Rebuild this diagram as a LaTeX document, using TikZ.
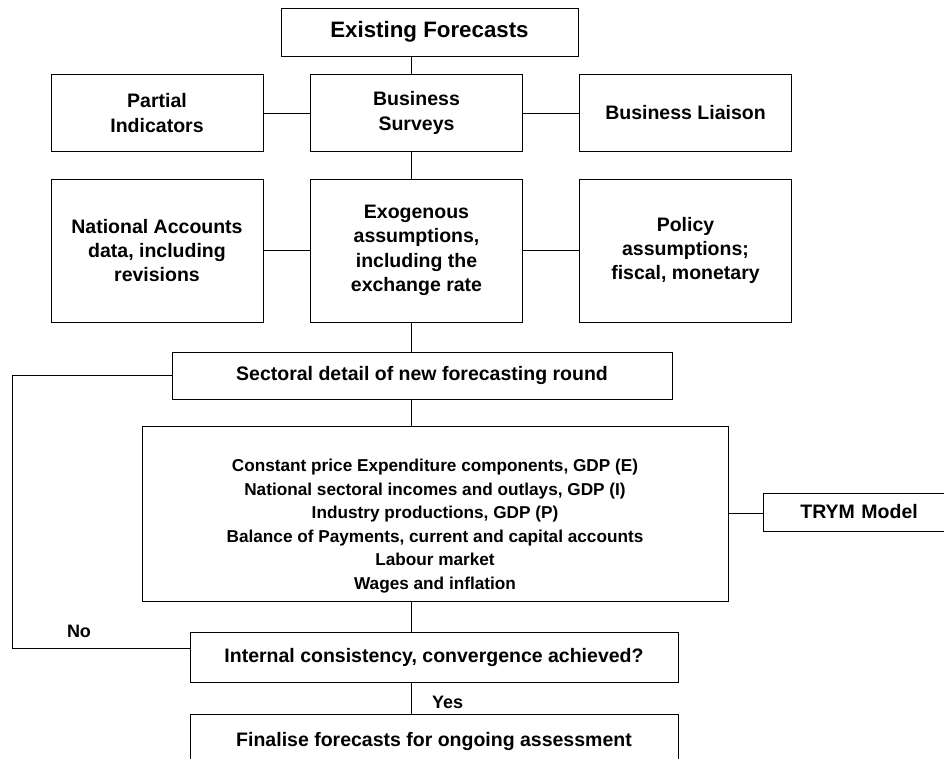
\documentclass[tikz,border=0pt]{standalone}
\usepackage{fontspec}
\setmainfont{Liberation Sans}
\usetikzlibrary{positioning, calc}

\begin{document}
\begin{tikzpicture}[x=1pt, y=-1pt,
  box/.style = {draw, line width=0.8pt, align=center, inner sep=2pt, font=\fontsize{19.5}{24.3}\selectfont\bfseries},
  rowbox/.style = {box, minimum width=212pt, minimum height=77pt},
  tallbox/.style = {box, minimum width=212pt, minimum height=143pt},
  widebox/.style = {box, minimum width=488pt, minimum height=50pt},
  link/.style = {draw, line width=0.8pt},
  lbl/.style = {inner sep=0pt, font=\fontsize{18}{22}\selectfont\bfseries}]
\useasboundingbox (0,0) rectangle (944,758);

\node[box, minimum width=297pt, minimum height=48pt, font=\fontsize{22.3}{27}\selectfont\bfseries] (exist) at (429.5,32) {Existing Forecasts};
\node[rowbox] (partial) at (157,113) {Partial\\Indicators};
\node[rowbox] (surveys) at (416.5,113) {Business\\Surveys};
\node[rowbox] (liaison) at (685.5,113) {Business Liaison};
\node[tallbox] (natacc) at (157,250.5) {National Accounts\\data, including\\revisions};
\node[tallbox] (exog) at (416.5,250.5) {Exogenous\\assumptions,\\including the\\exchange rate};
\node[tallbox] (policy) at (685.5,250.5) {Policy\\assumptions;\\fiscal, monetary};
\node[box, minimum width=500pt, minimum height=47pt] (sector) at (422,375.5) {Sectoral detail of new forecasting round};
\node[box, minimum width=586pt, minimum height=175pt] (core) at (435,513.5) {};
\node[align=center, inner sep=0pt, font=\fontsize{17.2}{23.6}\selectfont\bfseries] (coretext) at ([yshift=-12.5pt]core.center)
  {Constant price Expenditure components, GDP (E)\\National sectoral incomes and outlays, GDP (I)\\Industry productions, GDP (P)\\Balance of Payments, current and capital accounts\\Labour market\\Wages and inflation};
\node[box, anchor=west, align=left, inner xsep=37pt, text width=156pt, minimum height=38pt] (trym) at (763,512) {TRYM Model};
\node[widebox] (check) at (434,657) {Internal consistency, convergence achieved?};
\node[widebox, minimum height=54pt] (final) at (434,741) {Finalise forecasts for ongoing assessment};

% main spine
\coordinate (spine) at (411,0);
\draw[link] (exist.south -| spine) -- (surveys.north -| spine);
\draw[link] (surveys.south -| spine) -- (exog.north -| spine);
\draw[link] (exog.south -| spine) -- (sector.north -| spine);
\draw[link] (sector.south -| spine) -- (core.north -| spine);
\draw[link] (core.south -| spine) -- (check.north -| spine);
\draw[link] (check.south -| spine) -- (final.north -| spine);

% side boxes
\draw[link] (partial) -- (surveys);
\draw[link] (surveys) -- (liaison);
\draw[link] (natacc) -- (exog);
\draw[link] (exog) -- (policy);
\draw[link] (core.east) -- (core.east -| trym.west);

% feedback loop
\coordinate (back) at (12,648);
\draw[link] (sector.west) -| (back) -- (back -| check.west);
\node[lbl] (no) at (79,631) {No};
\node[lbl, anchor=west] (yes) at (432,702) {Yes};
\end{tikzpicture}
\end{document}
